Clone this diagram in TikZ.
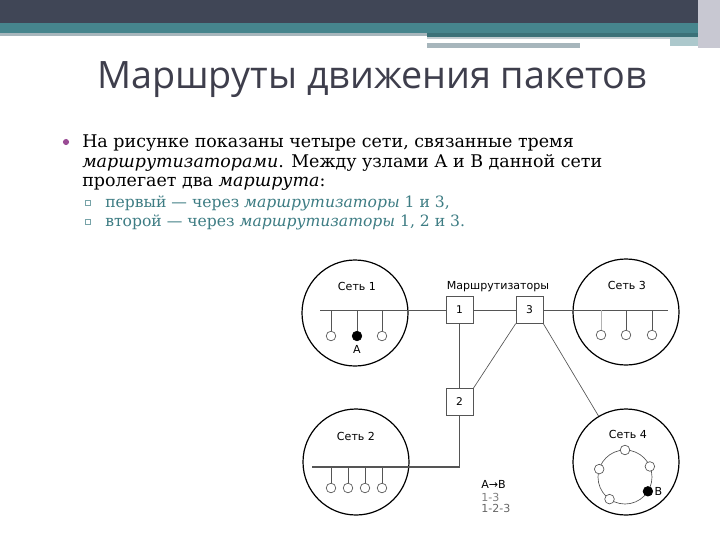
\documentclass[tikz,border=0pt]{standalone}
\usepackage{fontspec}
\setmainfont{DejaVu Serif}
\newfontfamily\titlefont{Open Sans}
\newfontfamily\labelfont{DejaVu Sans}
\definecolor{headdark}{HTML}{404656}
\definecolor{headteal}{HTML}{46858D}
\definecolor{headgray}{HTML}{A7B6BC}
\definecolor{headside}{HTML}{C8C8D2}
\definecolor{titlecol}{HTML}{3E3E4C}
\definecolor{subcol}{HTML}{3D7C83}
\definecolor{dotcol}{HTML}{9A4C95}
\definecolor{wirecol}{HTML}{555555}

\tikzset{
  net/.style={circle, draw=black, line width=0.9pt, minimum size=79.5pt, inner sep=0pt},
  router/.style={draw=wirecol, line width=0.5pt, minimum width=20.25pt, minimum height=20pt,
    inner sep=0pt, font=\labelfont\fontsize{8}{9}\selectfont},
  host/.style={circle, draw=wirecol, line width=0.5pt, fill=white, minimum size=7.2pt, inner sep=0pt},
  hostfull/.style={host, draw=black, fill=black},
  wire/.style={draw=wirecol, line width=0.5pt},
  lbl/.style={font=\labelfont\fontsize{8.3}{10}\selectfont},
  bodytext/.style={anchor=base west, inner sep=0pt, font=\fontsize{13.1}{15}\selectfont},
  subtext/.style={anchor=base west, inner sep=0pt, text=subcol, font=\fontsize{11.7}{13}\selectfont}
}

\begin{document}
\begin{tikzpicture}[x=0.75pt, y=-0.75pt]
    \useasboundingbox (0,0) rectangle (720,540);

    % Шапка слайда
    \fill[headdark] (0,0) rectangle (698,23);
    \fill[headside] (698,0) rectangle (720,48);
    \fill[headteal] (0,23) rectangle (698,33);
    \fill[headgray] (0,33) rectangle (427,36);
    \fill[headteal!85!black] (427,33) rectangle (698,37);
    \fill[headgray!70] (427,37) rectangle (670,39);
    \fill[headteal!45] (670,37) rectangle (698,46);
    \fill[headgray] (427,43) rectangle (580,48);

    % Заголовок
    \node[anchor=base, text=titlecol, font=\titlefont\fontsize{28.3}{32}\selectfont] (title) at (372,88) {Маршруты движения пакетов};

    % Текст
    \fill[dotcol] (66,142) circle[radius=2.3pt];
    \node[bodytext] (line1) at (82,147) {На рисунке показаны четыре сети, связанные тремя};
    \node[bodytext] (line2) at (82,167) {\textit{маршрутизаторами}. Между узлами А и В данной сети};
    \node[bodytext] (line3) at (82,186) {пролегает два \textit{маршрута}:};
    \draw[subcol!70, line width=0.5pt] (85.5,200.5) rectangle (90,205);
    \draw[subcol!70, line width=0.5pt] (85.5,219.5) rectangle (90,224);
    \node[subtext] (sub1) at (105,207) {первый — через \textit{маршрутизаторы} 1 и 3,};
    \node[subtext] (sub2) at (105,226) {второй — через \textit{маршрутизаторы} 1, 2 и 3.};

    % Сети
    \node[net] (net1) at (355,313) {};
    \node[net] (net2) at (356,462) {};
    \node[net] (net3) at (626,312) {};
    \node[net] (net4) at (626,462) {};
    \node[lbl] (cap1) at (357,286) {Сеть 1};
    \node[lbl] (cap2) at (356,436) {Сеть 2};
    \node[lbl] (cap3) at (627,285) {Сеть 3};
    \node[lbl] (cap4) at (628,434) {Сеть 4};

    % Маршрутизаторы
    \node[router] (r1) at (459.5,310) {1};
    \node[router] (r3) at (529.5,310) {3};
    \node[router] (r2) at (459.5,402) {2};
    \node[lbl] (rcap) at (498,287) {Маршрутизаторы};

    % Шины
    \coordinate (bus1) at (320,310);
    \coordinate (bus3) at (668,310);
    \coordinate (bus2) at (312,467);
    \draw[wire] (bus1) -- (r1);
    \draw[wire] (r1) -- (r3);
    \draw[wire] (r3) -- (bus3);
    \draw[wire] (r1) -- (r2);
    \draw[wire] (r3.south west) -- (r2.north east);
    \draw[wire] (r3.south east) -- (net4);
    \draw[wire, line width=0.9pt] (r2.south) |- (bus2);

    % Узлы сети 1
    \node[host] (h11) at (331,336) {};
    \node[hostfull] (hA) at (357,336) {};
    \node[host] (h13) at (382,336) {};
    \node[lbl] (labA) at (357,349) {A};
    \foreach \h in {h11,hA,h13}
        \draw[wire] (\h) -- (\h |- bus1);

    % Узлы сети 3
    \node[host] (h31) at (601,335) {};
    \node[host] (h32) at (626,335) {};
    \node[host] (h33) at (652,335) {};
    \draw[wire, draw=gray!60] (h31) -- (h31 |- bus3);
    \draw[wire] (h32) -- (h32 |- bus3);
    \draw[wire] (h33) -- (h33 |- bus3);

    % Узлы сети 2
    \foreach \x [count=\i] in {331,348,365,382} {
        \node[host] (h2\i) at (\x,488) {};
        \draw[wire] (h2\i) -- (h2\i |- bus2);
    }

    % Кольцо сети 4
    \coordinate (ring) at (625,477);
    \draw[wire] (ring) circle[radius=20.25pt];
    \foreach \a/\n in {-90/t, -23/r, 197/l, 125/b}
        \node[host] (h4\n) at ([shift={(\a:27)}]ring) {};
    \node[hostfull] (hB) at ([shift={(32:27)}]ring) {};
    \node[lbl, anchor=west, inner sep=1pt] (labB) at (hB.east) {B};

    % Легенда
    \node[lbl, anchor=west, inner sep=0pt] (leg1) at (481,484) {A→B};
    \node[lbl, anchor=west, inner sep=0pt, text=gray] (leg2) at (481,497) {1-3};
    \node[lbl, anchor=west, inner sep=0pt, text=gray!80!black] (leg3) at (481,508) {1-2-3};
\end{tikzpicture}
\end{document}
